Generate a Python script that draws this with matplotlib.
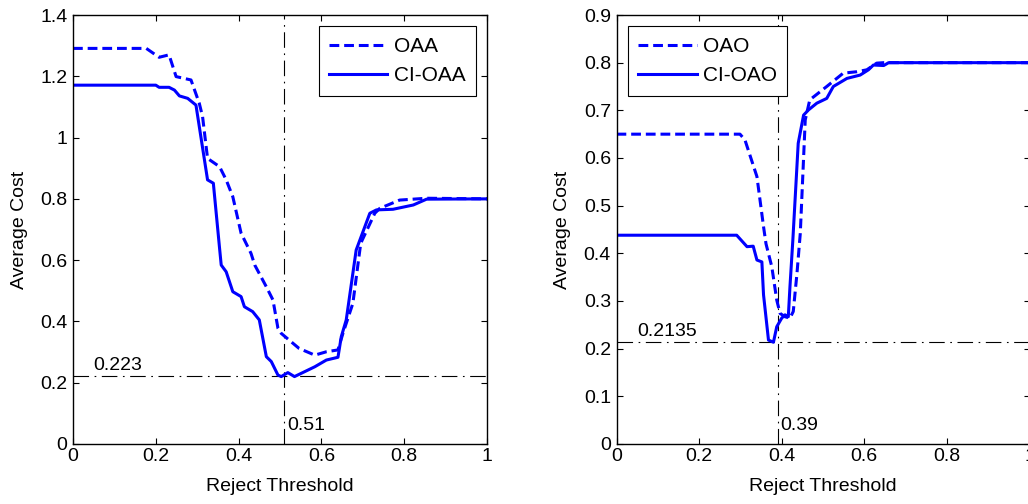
import numpy as np
import matplotlib
matplotlib.use("Agg")
import matplotlib.pyplot as plt
from matplotlib.ticker import FuncFormatter

plt.rcParams['font.family'] = ['Liberation Sans', 'DejaVu Sans']

# left panel: OAA vs CI-OAA
oaa_x = [0, 0.177, 0.208, 0.232, 0.249, 0.285, 0.305, 0.313, 0.325, 0.354, 0.370,
         0.386, 0.406, 0.430, 0.439, 0.467, 0.483, 0.495, 0.503, 0.531, 0.546, 0.584,
         0.612, 0.640, 0.652, 0.676, 0.695, 0.729, 0.741, 0.789, 0.854, 1.0]
oaa_y = [1.291, 1.291, 1.262, 1.270, 1.199, 1.188, 1.112, 1.068, 0.932, 0.905, 0.862,
         0.807, 0.688, 0.622, 0.584, 0.513, 0.470, 0.378, 0.361, 0.329, 0.312, 0.290,
         0.301, 0.307, 0.361, 0.459, 0.655, 0.753, 0.769, 0.796, 0.802, 0.800]

cioaa_x = [0, 0.200, 0.208, 0.232, 0.245, 0.257, 0.277, 0.297, 0.325, 0.339, 0.354,
           0.358, 0.370, 0.386, 0.406, 0.414, 0.434, 0.450, 0.467, 0.479, 0.495, 0.503,
           0.519, 0.535, 0.584, 0.612, 0.640, 0.648, 0.660, 0.684, 0.717, 0.733, 0.773,
           0.822, 0.854, 1.0]
cioaa_y = [1.171, 1.171, 1.164, 1.164, 1.155, 1.136, 1.128, 1.106, 0.862, 0.851, 0.639,
           0.584, 0.562, 0.497, 0.481, 0.448, 0.432, 0.405, 0.285, 0.269, 0.225, 0.220,
           0.233, 0.220, 0.252, 0.274, 0.283, 0.350, 0.405, 0.633, 0.753, 0.764, 0.766,
           0.780, 0.799, 0.800]

# right panel: OAO vs CI-OAO
oao_x = [0, 0.299, 0.311, 0.340, 0.356, 0.362, 0.376, 0.388, 0.396, 0.408, 0.420,
         0.428, 0.437, 0.445, 0.457, 0.468, 0.509, 0.549, 0.582, 0.606, 0.630, 0.647, 1.0]
oao_y = [0.650, 0.650, 0.638, 0.561, 0.456, 0.420, 0.372, 0.302, 0.274, 0.267, 0.264,
         0.278, 0.358, 0.442, 0.680, 0.722, 0.750, 0.778, 0.781, 0.785, 0.799, 0.800, 0.800]

cioao_x = [0, 0.291, 0.316, 0.331, 0.340, 0.352, 0.356, 0.368, 0.380, 0.388, 0.400,
           0.408, 0.416, 0.420, 0.427, 0.440, 0.453, 0.465, 0.485, 0.509, 0.525, 0.558,
           0.590, 0.610, 0.622, 0.647, 0.659, 1.0]
cioao_y = [0.438, 0.438, 0.414, 0.415, 0.386, 0.382, 0.313, 0.218, 0.2135, 0.246, 0.264,
           0.271, 0.267, 0.330, 0.428, 0.631, 0.690, 0.701, 0.715, 0.725, 0.750, 0.767,
           0.774, 0.785, 0.795, 0.794, 0.800, 0.800]

# optimum markers
left_best = (0.51, 0.223)
right_best = (0.39, 0.2135)

BLUE = (0, 0, 1)
FS = 14


def fmt(v, pos):
    return '%g' % round(v, 3)


def setup_axes(ax, ymax, ystep):
    ax.set_xlim(0, 1)
    ax.set_ylim(0, ymax)
    ax.set_xticks(np.arange(0, 1.01, 0.2))
    ax.set_yticks(np.arange(0, ymax + 1e-9, ystep))
    ax.xaxis.set_major_formatter(FuncFormatter(fmt))
    ax.yaxis.set_major_formatter(FuncFormatter(fmt))
    ax.tick_params(direction='in', top=True, right=True, length=4, width=0.8,
                   labelsize=FS)
    ax.tick_params(axis='x', pad=3)
    ax.tick_params(axis='y', pad=4)
    for s in ax.spines.values():
        s.set_linewidth(1.0)
    ax.set_xlabel('Reject Threshold', fontsize=FS, labelpad=9)
    ax.set_ylabel('Average Cost', fontsize=FS, labelpad=9)


def ref_lines(ax, best, ymax, label_x, label_y):
    bx, by = best
    ax.axhline(by, color='k', lw=0.8, dashes=(14, 5, 1.5, 5), zorder=1)
    ax.axvline(bx, color='k', lw=0.8, dashes=(14, 5, 1.5, 5), zorder=1)
    ax.text(0.05, by + 0.004 * ymax / 0.9, label_y, fontsize=FS, va='bottom', ha='left')
    ax.text(bx + 0.007, 0.042 * ymax, label_x, fontsize=FS, va='center', ha='left')


def add_legend(ax, loc):
    leg = ax.legend(loc=loc, fontsize=15, handlelength=2.8, fancybox=False,
                    framealpha=1, edgecolor='k', borderpad=0.5, labelspacing=0.5,
                    handletextpad=0.3, borderaxespad=0.55)
    leg.get_frame().set_linewidth(0.8)


fig = plt.figure(figsize=(10.28, 5.04), dpi=100)
ax1 = fig.add_axes([73 / 1028, 1 - 444 / 504, 414 / 1028, 429 / 504])
ax2 = fig.add_axes([616.5 / 1028, 1 - 444 / 504, 413 / 1028, 429 / 504])

# left plot
ref_lines(ax1, left_best, 1.4, '0.51', '0.223')
ax1.plot(oaa_x, oaa_y, color=BLUE, lw=2.2, dashes=(3.2, 1.6), label='OAA')
ax1.plot(cioaa_x, cioaa_y, color=BLUE, lw=2.2, label='CI-OAA')
setup_axes(ax1, 1.4, 0.2)
add_legend(ax1, 'upper right')

# right plot
ref_lines(ax2, right_best, 0.9, '0.39', '0.2135')
ax2.plot(oao_x, oao_y, color=BLUE, lw=2.2, dashes=(3.2, 1.6), label='OAO')
ax2.plot(cioao_x, cioao_y, color=BLUE, lw=2.2, label='CI-OAO')
setup_axes(ax2, 0.9, 0.1)
add_legend(ax2, 'upper left')

fig.savefig('out.png', dpi=100)
